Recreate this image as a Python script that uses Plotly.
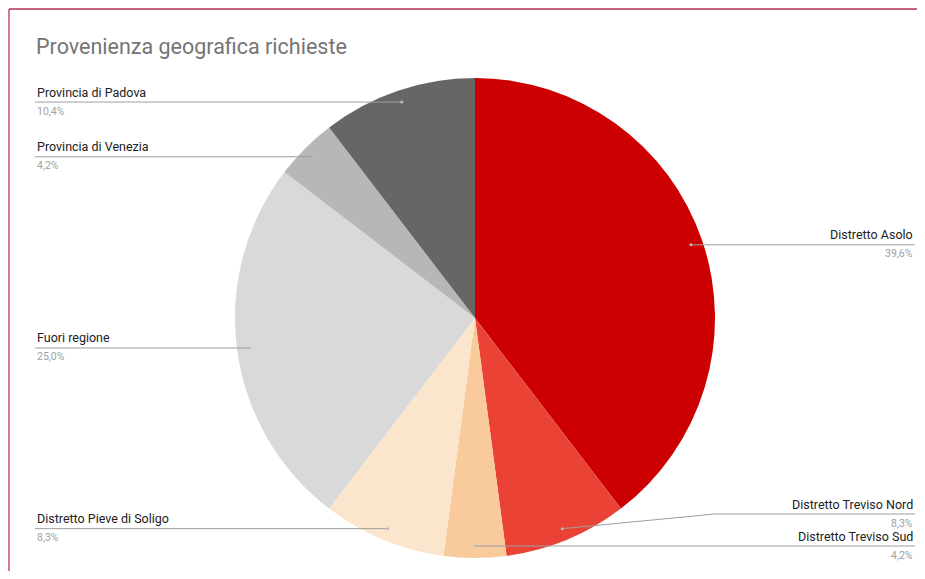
import math
import plotly.graph_objects as go

labels = ["Distretto Asolo", "Distretto Treviso Nord", "Distretto Treviso Sud",
          "Distretto Pieve di Soligo", "Fuori regione", "Provincia di Venezia",
          "Provincia di Padova"]
values = [39.6, 8.3, 4.2, 8.3, 25.0, 4.2, 10.4]
pct_text = ["39,6%", "8,3%", "4,2%", "8,3%", "25,0%", "4,2%", "10,4%"]
colors = ["#cc0000", "#ea4335", "#f9cb9c", "#fce5cd", "#d9d9d9", "#b7b7b7", "#666666"]

# page body has an 8px margin; work in reference-window pixels and shift
OFF = 8
W, H = 925 - 2 * OFF, 579 - 2 * OFF
CX, CY, R = 475, 318, 240

def px(x):
    return (x - OFF) / W

def py(y):
    return 1 - (y - OFF) / H

fig = go.Figure(go.Pie(
    labels=labels, values=values, sort=False, direction="clockwise", rotation=0,
    marker=dict(colors=colors, line=dict(width=0)), textinfo="none",
    hoverinfo="label+percent", showlegend=False,
    domain=dict(x=[px(CX - R), px(CX + R)], y=[py(CY + R), py(CY - R)]),
))

shapes = []
annotations = []
# border (top and left)
shapes.append(dict(type="line", xref="paper", yref="paper", x0=px(9), x1=1, y0=py(9), y1=py(9),
                   line=dict(color="#a8324f", width=1.5)))
shapes.append(dict(type="line", xref="paper", yref="paper", x0=px(9), x1=px(9), y0=py(9), y1=0,
                   line=dict(color="#c0506a", width=1.5)))

LINE = "#9e9e9e"
total = sum(values)
cum = 0.0
for i, v in enumerate(values):
    mid = (cum + v / 2) / total * 2 * math.pi
    cum += v
    ix = CX + 0.95 * R * math.sin(mid)
    iy = CY - 0.95 * R * math.cos(mid)
    right = math.sin(mid) > 0.001 or labels[i] == "Distretto Treviso Sud"
    ly = iy
    if labels[i] == "Distretto Treviso Nord":
        ly = 514
    if right:
        ex = 915
        if abs(ly - iy) > 1:
            shapes.append(dict(type="line", xref="paper", yref="paper", x0=px(ix), y0=py(iy),
                               x1=px(CX + R), y1=py(ly), line=dict(color=LINE, width=1)))
            shapes.append(dict(type="line", xref="paper", yref="paper", x0=px(CX + R), y0=py(ly),
                               x1=px(ex), y1=py(ly), line=dict(color=LINE, width=1)))
        else:
            shapes.append(dict(type="line", xref="paper", yref="paper", x0=px(ix), y0=py(iy),
                               x1=px(ex), y1=py(ly), line=dict(color=LINE, width=1)))
        xa = "right"
    else:
        ex = 35
        shapes.append(dict(type="line", xref="paper", yref="paper", x0=px(ix), y0=py(iy),
                           x1=px(ex), y1=py(ly), line=dict(color=LINE, width=1)))
        xa = "left"
    shapes.append(dict(type="circle", xref="paper", yref="paper",
                       x0=px(ix - 1.5), x1=px(ix + 1.5), y0=py(iy + 1.5), y1=py(iy - 1.5),
                       fillcolor="#bdbdbd", line=dict(width=0)))
    annotations.append(dict(xref="paper", yref="paper", x=px(ex), y=py(ly - 0.5), text=labels[i],
                            showarrow=False, xanchor=xa, yanchor="bottom",
                            font=dict(family="Roboto", size=12.5, color="#222222")))
    annotations.append(dict(xref="paper", yref="paper", x=px(ex), y=py(ly + 0.5), text=pct_text[i],
                            showarrow=False, xanchor=xa, yanchor="top",
                            font=dict(family="Roboto", size=10.5, color="#a0a0a0")))

annotations.append(dict(xref="paper", yref="paper", x=px(34), y=py(47),
                        text="Provenienza geografica richieste", showarrow=False,
                        xanchor="left", yanchor="middle",
                        font=dict(family="Roboto", size=21.5, color="#757575")))

fig.update_layout(
    width=W, height=H, margin=dict(l=0, r=0, t=0, b=0),
    paper_bgcolor="white", plot_bgcolor="white",
    shapes=shapes, annotations=annotations,
)
fig.write_html("out.html")
